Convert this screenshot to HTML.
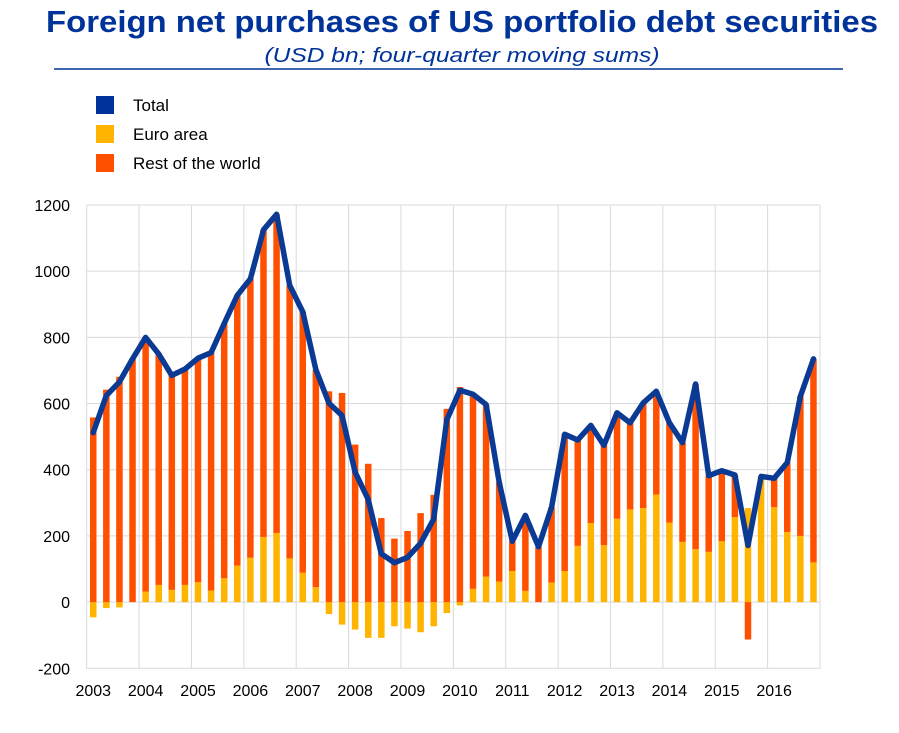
<!DOCTYPE html>
<html><head><meta charset="utf-8"><style>
body{margin:0;background:#fff;font-family:"Liberation Sans",sans-serif;}
#wrap{position:relative;width:899px;height:733px;overflow:hidden;}
</style></head><body>
<div id="wrap">
<svg id="chart" width="899" height="733">
<text x="462" y="32" text-anchor="middle" font-size="31" font-weight="bold" fill="#003399" textLength="832" lengthAdjust="spacingAndGlyphs">Foreign net purchases of US portfolio debt securities</text>
<text x="462" y="62" text-anchor="middle" font-size="20" font-style="italic" fill="#003399" textLength="395" lengthAdjust="spacingAndGlyphs">(USD bn; four-quarter moving sums)</text>
<line x1="54" y1="69" x2="843" y2="69" stroke="#003399" stroke-width="1.5"/>
<g>
<rect x="96" y="96" width="18" height="18" fill="#003399"/>
<text x="133" y="111" font-size="17" fill="#000">Total</text>
<rect x="96" y="125" width="18" height="18" fill="#ffb400"/>
<text x="133" y="140" font-size="17" fill="#000">Euro area</text>
<rect x="96" y="154" width="18" height="18" fill="#ff5000"/>
<text x="133" y="169" font-size="17" fill="#000">Rest of the world</text>
</g>
<g id="grid"></g><g id="bars"></g><g id="line"></g><g id="axes"></g>
</svg>
</div>
<script>
const years=["2003","2004","2005","2006","2007","2008","2009","2010","2011","2012","2013","2014","2015","2016"];
const yTicks=[-200,0,200,400,600,800,1000,1200];
const total=[512,624,665,735,800,750,685,704,737,754,842,927,977,1125,1172,957,877,702,601,564,393,310,146,119,135,178,251,551,640,628,597,362,184,262,167,287,507,490,534,474,572,542,602,637,542,482,659,382,397,384,171,380,374,422,622,735];
const euro=[-46,-18,-16,0,32,52,37,52,60,35,72,110,134,197,209,132,89,45,-36,-68,-83,-108,-108,-73,-80,-91,-73,-33,-10,40,77,62,94,34,0,59,94,170,239,172,252,280,284,325,240,182,160,152,184,257,284,375,287,212,200,120];
const rest=total.map((t,i)=>t-euro[i]);
const NS="http://www.w3.org/2000/svg";
const L=86.7,R=820,T=205,B=668.3,yMin=-200,yMax=1200,n=total.length;
const X=i=>L+(i+0.5)*(R-L)/n;
const Y=v=>B-(v-yMin)/(yMax-yMin)*(B-T);
function mk(tag,attrs,parent){const e=document.createElementNS(NS,tag);for(const k in attrs)e.setAttribute(k,attrs[k]);parent.appendChild(e);return e;}
const grid=document.getElementById('grid'),bars=document.getElementById('bars'),lineG=document.getElementById('line'),axes=document.getElementById('axes');
yTicks.forEach(v=>{
 const l=mk('line',{x1:L,x2:R,y1:Y(v),y2:Y(v),stroke:'#d9d9d9','stroke-width':1},grid);
 
 
 const t=mk('text',{x:70,y:Y(v)+6,'text-anchor':'end','font-size':16,fill:'#000'},axes);
 t.textContent=v;
 
 
});
years.forEach((y,k)=>{
 const gx=L+k*4*(R-L)/n;
 const l=mk('line',{x1:gx,x2:gx,y1:T,y2:B,stroke:'#d9d9d9','stroke-width':1},grid);
 
 
 const t=mk('text',{x:X(k*4),y:696,'text-anchor':'middle','font-size':16,fill:'#000'},axes);
 t.textContent=y;
 
 
});
const rl=mk('line',{x1:R,x2:R,y1:T,y2:B,stroke:'#d9d9d9'},grid);


const bw=6.5;
for(let i=0;i<n;i++){
 let pos=0,neg=0;
 [[euro[i],'#ffb400','bar-euro-area'],[rest[i],'#ff5000','bar-rest-of-world']].forEach(([v,c,name])=>{
  let y0,y1;
  if(v>=0){y0=pos;y1=pos+v;pos=y1;}else{y0=neg;y1=neg+v;neg=y1;}
  const r=mk('rect',{x:X(i)-bw/2,y:Math.min(Y(y0),Y(y1)),width:bw,height:Math.abs(Y(y1)-Y(y0)),fill:c},bars);
  
  
 });
}
const pts=total.map((v,i)=>X(i).toFixed(1)+','+Y(v).toFixed(1)).join(' ');
const pl=mk('polyline',{points:pts,fill:'none',stroke:'#0a3a94','stroke-width':5.5,'stroke-linejoin':'round','stroke-linecap':'round'},lineG);


</script>
</body></html>
